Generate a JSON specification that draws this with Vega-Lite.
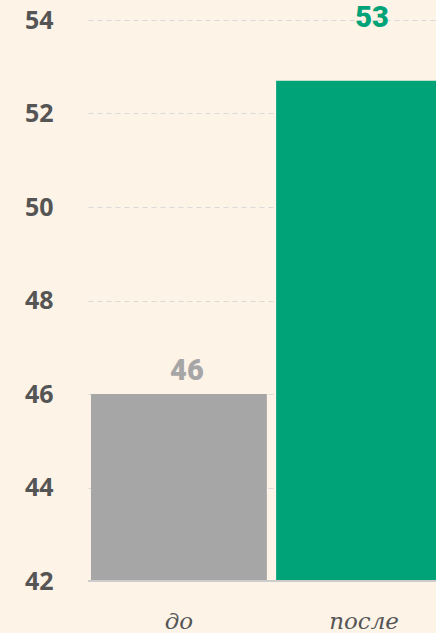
{
  "$schema": "https://vega.github.io/schema/vega-lite/v6.json",
  "autosize": "none",
  "width": 367,
  "height": 561,
  "padding": {"left": 88, "top": 20, "right": 0, "bottom": 52},
  "background": "#fdf3e7",
  "config": {"view": {"stroke": null}},
  "data": {"values": [
    {"period": "до", "value": 46.0, "label": "46", "labelAt": 46.5},
    {"period": "после", "value": 52.7, "label": "53", "labelAt": 54.05}
  ]},
  "encoding": {
    "x": {"field": "period", "type": "nominal", "sort": null,
      "scale": {"paddingInner": 0.05, "paddingOuter": 0.016},
      "axis": {"title": null, "labelAngle": 0, "domain": false, "ticks": false,
        "labelFont": "DejaVu Serif", "labelFontStyle": "italic", "labelFontSize": 23,
        "labelColor": "#555555", "labelBaseline": "alphabetic", "labelPadding": 47}}
  },
  "layer": [
    {
      "mark": {"type": "bar", "clip": true},
      "encoding": {
        "y": {"field": "value", "type": "quantitative",
          "scale": {"domain": [42, 54], "nice": false, "zero": false},
          "axis": {"title": null, "values": [42, 44, 46, 48, 50, 52, 54],
            "grid": true, "gridDash": [5, 4], "gridColor": "#d9d9d9", "gridWidth": 1,
            "domain": false, "ticks": false, "labelPadding": 35,
            "labelFont": "Open Sans", "labelFontWeight": "bold", "labelFontSize": 25,
            "labelColor": "#555555"}},
        "color": {"field": "period", "type": "nominal", "legend": null,
          "scale": {"domain": ["до", "после"], "range": ["#a6a6a6", "#00a378"]}}
      }
    },
    {
      "mark": {"type": "rule", "color": "#cccccc", "strokeWidth": 2},
      "encoding": {"y": {"datum": 42, "type": "quantitative"}, "x": null}
    },
    {
      "mark": {"type": "text", "font": "Roboto", "fontWeight": 900, "fontSize": 29, "baseline": "middle", "dx": 8},
      "encoding": {
        "y": {"field": "labelAt", "type": "quantitative"},
        "text": {"field": "label"},
        "color": {"field": "period", "type": "nominal", "legend": null,
          "scale": {"domain": ["до", "после"], "range": ["#a6a6a6", "#00a378"]}}
      }
    }
  ]
}
